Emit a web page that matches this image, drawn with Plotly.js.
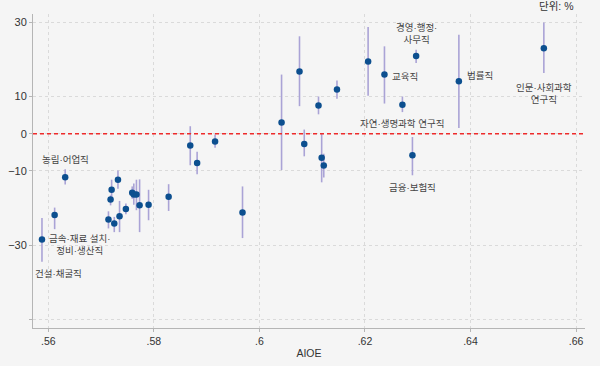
<!DOCTYPE html>
<html>
<head>
<meta charset="utf-8">
<script src="https://cdn.plot.ly/plotly-3.0.1.min.js"></script>
<style>
html,body{margin:0;padding:0;background:#f5f5f5;}
#chart{width:600px;height:366px;}
</style>
</head>
<body>
<div id="chart"></div>
<script>
// AIOE score per occupation
const aioe = [0.5588, 0.5612, 0.5632, 0.5714, 0.5718, 0.5720, 0.5725, 0.5732, 0.5735, 0.5747,
              0.5759, 0.5762, 0.5767, 0.5773, 0.5790, 0.5828, 0.5869, 0.5882, 0.5916, 0.5968,
              0.6042, 0.6076, 0.6085, 0.6112, 0.6118, 0.6122, 0.6147, 0.6206, 0.6237, 0.6271,
              0.6290, 0.6297, 0.6378, 0.6539];
// point estimate (%)
const estimate = [-28.5, -21.9, -11.7, -23.1, -17.7, -15.1, -24.2, -12.4, -22.2, -20.3,
                  -15.9, -16.4, -16.4, -19.3, -19.1, -17.0, -3.2, -7.9, -2.1, -21.2,
                  3.0, 16.7, -2.8, 7.6, -6.5, -8.6, 11.9, 19.4, 15.9, 7.8,
                  -5.8, 20.9, 14.1, 23.0];
// confidence interval upper bound
const upper = [-22.7, -19.9, -9.6, -20.9, -16.6, -12.4, -22.4, -9.9, -18.1, -18.8,
               -14.2, -13.4, -12.4, -12.3, -15.1, -13.6, 2.0, -4.9, -0.2, -14.2,
               15.9, 26.2, 1.1, 10.0, 0.0, -5.4, 14.3, 28.7, 23.5, 10.0,
               -0.9, 22.6, 26.6, 29.9];
// confidence interval lower bound
const lower = [-34.5, -25.7, -13.7, -25.5, -19.3, -17.0, -26.5, -14.8, -26.5, -21.7,
               -17.5, -19.1, -20.6, -26.5, -23.3, -20.8, -8.5, -10.9, -3.8, -28.1,
               -9.8, 7.4, -6.1, 5.2, -13.1, -11.8, 9.4, 10.2, 8.1, 5.8,
               -11.2, 19.0, 1.5, 16.3];

const xTickVals = [0.56, 0.58, 0.60, 0.62, 0.64, 0.66];
const xTickText = ['.56', '.58', '.6', '.62', '.64', '.66'];
const yTickVals = [30, 10, 0, -10, -30, -50];
const yTickText = ['30', '10', '0', '\u221210', '\u221230', ''];

const labelText = ['농림·어업직', '금속·재료 설치·<br>정비·생산직', '건설·채굴직', '경영·행정·<br>사무직',
                   '교육직', '법률직', '자연·생명과학 연구직', '금융·보험직', '인문·사회과학<br>연구직'];
const labelX = [0.5632, 0.5660, 0.5620, 0.6297, 0.6248, 0.6389, 0.6270, 0.6291, 0.6539];
const labelY = [-7.0, -29.7, -37.6, 26.9, 15.4, 15.7, 2.7, -14.6, 10.8];
const labelAnchor = ['center', 'center', 'center', 'center', 'left', 'left', 'center', 'center', 'center'];

const errPlus = estimate.map((v, i) => upper[i] - v);
const errMinus = estimate.map((v, i) => v - lower[i]);

const trace = {
  type: 'scatter', mode: 'markers',
  x: aioe, y: estimate,
  marker: {color: '#0c4f8f', size: 6.5},
  error_y: {type: 'data', symmetric: false, array: errPlus, arrayminus: errMinus,
            color: '#aaa3d6', thickness: 1.6, width: 0},
  hoverinfo: 'skip'
};

const font = 'Liberation Sans, Arial, "Noto Sans CJK KR", sans-serif';
const annotations = labelText.map((t, i) => ({
  text: t, x: labelX[i], y: labelY[i], xref: 'x', yref: 'y',
  xanchor: labelAnchor[i], yanchor: 'middle', showarrow: false,
  font: {family: font, size: 9.5, color: '#444'}
}));
annotations.push({
  text: '단위: %', x: 0.9475, y: 1.026, xref: 'paper', yref: 'paper',
  xanchor: 'center', yanchor: 'middle', showarrow: false,
  font: {family: font, size: 10.5, color: '#333'}
});

const layout = {
  width: 600, height: 366,
  margin: {l: 33, r: 14.5, t: 14, b: 37.7},
  paper_bgcolor: '#f5f5f5', plot_bgcolor: '#f5f5f5',
  showlegend: false,
  font: {family: font, size: 11, color: '#333'},
  xaxis: {
    range: [0.5571, 0.6617], tickvals: xTickVals, ticktext: xTickText,
    showgrid: true, gridcolor: '#dadada', griddash: '3px,3px', gridwidth: 1,
    zeroline: false, showline: true, linecolor: '#b5b5b5', linewidth: 1,
    ticks: 'outside', ticklen: 3, tickcolor: '#b5b5b5',
    tickfont: {size: 10.5, color: '#333'},
    title: {text: 'AIOE', font: {size: 10.5, color: '#333'}, standoff: 4}
  },
  yaxis: {
    range: [-52.3, 32.2], tickvals: yTickVals, ticktext: yTickText,
    showgrid: true, gridcolor: '#dadada', griddash: '3px,3px', gridwidth: 1,
    zeroline: false, showline: true, linecolor: '#b5b5b5', linewidth: 1,
    ticks: 'outside', ticklen: 3, tickcolor: '#b5b5b5',
    tickfont: {size: 11, color: '#333'}
  },
  shapes: [{
    type: 'line', xref: 'paper', yref: 'y', x0: 0, x1: 1, y0: 0, y1: 0,
    line: {color: '#ee2b2b', width: 1.5, dash: '4px,3px'}
  }],
  annotations: annotations
};

Plotly.newPlot('chart', [trace], layout, {displayModeBar: false, staticPlot: true});
</script>
</body>
</html>
